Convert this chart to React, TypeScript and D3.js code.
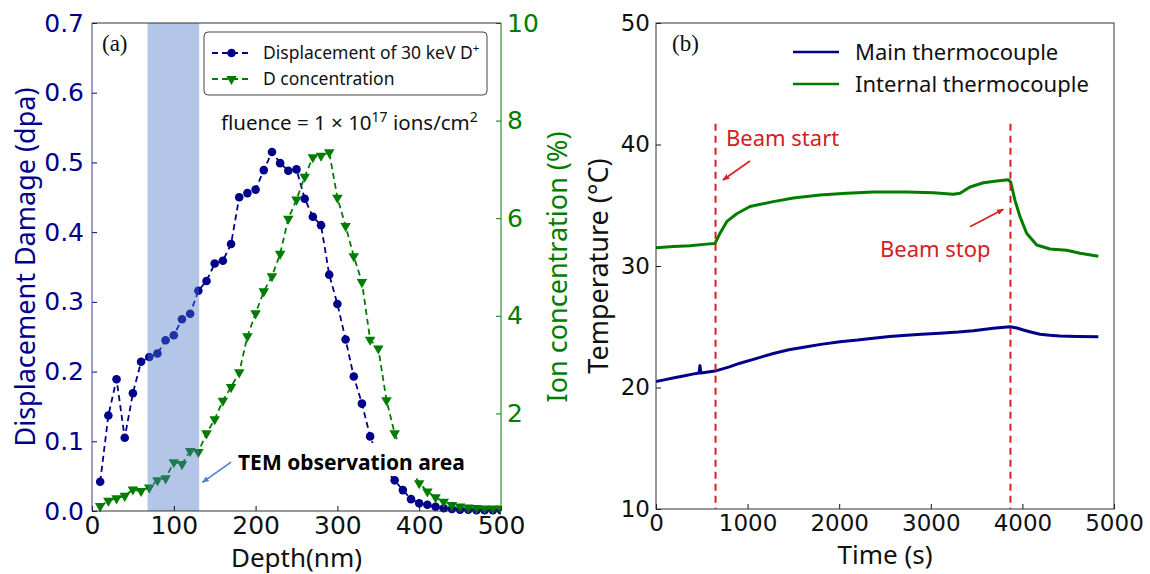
import React, { useEffect, useRef } from 'react';
import * as d3 from 'd3';

// ---- panel (a): SRIM damage and D concentration vs depth ----
const depth = [
  10, 20, 30, 40, 50, 60, 70, 80, 90, 100,
  110, 120, 130, 140, 150, 160, 170, 180, 190, 200,
  210, 220, 230, 240, 250, 260, 270, 280, 290, 300,
  310, 320, 330, 340, 350, 360, 370, 380, 390, 400,
  410, 420, 430, 440, 450, 460, 470, 480, 490, 500,
];
const displacement = [
  0.042, 0.137, 0.189, 0.105, 0.169, 0.214, 0.221, 0.226, 0.245, 0.252,
  0.275, 0.283, 0.316, 0.330, 0.355, 0.359, 0.383, 0.450, 0.456, 0.461,
  0.489, 0.515, 0.499, 0.488, 0.490, 0.448, 0.422, 0.410, 0.339, 0.297,
  0.246, 0.193, 0.154, 0.107, 0.075, 0.058, 0.044, 0.030, 0.017, 0.011,
  0.009, 0.006, 0.004, 0.003, 0.002, 0.002, 0.001, 0.001, 0.001, 0.001,
];
const dConcentration = [
  0.10, 0.21, 0.26, 0.31, 0.44, 0.41, 0.48, 0.63, 0.67, 1.00,
  0.96, 1.23, 1.21, 1.59, 1.88, 2.26, 2.54, 2.84, 3.58, 4.05,
  4.50, 4.81, 5.27, 5.99, 6.38, 6.85, 7.25, 7.28, 7.35, 6.42,
  5.84, 5.22, 4.69, 3.51, 3.33, 2.27, 1.59, 1.15, 0.85, 0.57,
  0.40, 0.28, 0.19, 0.12, 0.09, 0.07, 0.06, 0.05, 0.05, 0.05,
];
const depthTicks = [0, 100, 200, 300, 400, 500];
const dpaTicks = [0, 0.1, 0.2, 0.3, 0.4, 0.5, 0.6, 0.7];
const ionTicks = [2, 4, 6, 8, 10];
const temArea = [68, 131];

// ---- panel (b): thermocouple readings vs time ----
const timeMain = [
  0, 100, 200, 300, 400, 470, 480, 490, 644, 800,
  917, 1100, 1281, 1450, 1645, 1800, 2009, 2200, 2372, 2550,
  2737, 2900, 3100, 3300, 3464, 3682, 3865, 3940, 4010, 4100,
  4192, 4300, 4410, 4600, 4829,
];
const tempMain = [
  20.5, 20.65, 20.8, 20.95, 21.1, 21.2, 21.8, 21.2, 21.35, 21.7,
  22.0, 22.4, 22.8, 23.1, 23.35, 23.55, 23.77, 23.9, 24.05, 24.2,
  24.3, 24.38, 24.46, 24.56, 24.67, 24.87, 25.0, 24.9, 24.73, 24.55,
  24.38, 24.3, 24.24, 24.2, 24.18,
];
const timeInternal = [
  0, 189, 371, 553, 644, 699, 772, 881, 1026, 1281,
  1499, 1790, 2082, 2372, 2737, 3028, 3246, 3319, 3428, 3574,
  3719, 3846, 3872, 3919, 3974, 4046, 4156, 4301, 4483, 4629,
  4829,
];
const tempInternal = [
  31.5, 31.6, 31.67, 31.8, 31.85, 32.7, 33.65, 34.3, 34.9, 35.3,
  35.6, 35.84, 35.98, 36.1, 36.1, 36.03, 35.9, 35.98, 36.5, 36.85,
  37.0, 37.1, 36.9, 35.4, 34.06, 32.7, 31.73, 31.4, 31.3, 31.05,
  30.8,
];
const timeTicks = [0, 1000, 2000, 3000, 4000, 5000];
const tempTicks = [10, 20, 30, 40, 50];
const beamTimes = [650, 3870];

const NAVY = '#00008b';
const GREEN = '#007d00';
const RED = '#d42020';
const SPINE = '#333';
const SANS = '"Noto Sans", "Open Sans", sans-serif';
const TICK = '"DejaVu Sans", sans-serif';
const SERIF = '"Liberation Serif", "Times New Roman", serif';

function styleAxis(g: any, color: string, size: number) {
  g.select('.domain').remove();
  g.selectAll('.tick line').attr('stroke', color).attr('stroke-width', 1);
  g.selectAll('.tick text')
    .attr('fill', color)
    .style('font-family', TICK)
    .style('font-size', size + 'px');
}

function drawPanelA(svg: any) {
  const box = { left: 92, right: 501, top: 23, bottom: 511 };
  const x = d3.scaleLinear().domain([0, 500]).range([box.left, box.right]);
  const yL = d3.scaleLinear().domain([0, 0.7]).range([box.bottom, box.top]);
  const yR = d3.scaleLinear().domain([0, 10]).range([box.bottom, box.top]);

  svg.append('clipPath').attr('id', 'clipA')
    .append('rect')
    .attr('x', box.left).attr('y', box.top - 6)
    .attr('width', box.right - box.left).attr('height', box.bottom - box.top + 12);

  const plot = svg.append('g').attr('clip-path', 'url(#clipA)');

  const lineL = d3.line<number>().x((_, i) => x(depth[i])).y(d => yL(d));
  const lineR = d3.line<number>().x((_, i) => x(depth[i])).y(d => yR(d));

  plot.append('path').datum(displacement)
    .attr('d', lineL).attr('fill', 'none')
    .attr('stroke', NAVY).attr('stroke-width', 1.8).attr('stroke-dasharray', '6,4');
  plot.append('g').selectAll('circle').data(displacement).enter()
    .append('circle')
    .attr('cx', (_: number, i: number) => x(depth[i]))
    .attr('cy', (d: number) => yL(d))
    .attr('r', 4.3).attr('fill', NAVY);

  const tri = d3.symbol().type(d3.symbolTriangle).size(48);
  plot.append('path').datum(dConcentration)
    .attr('d', lineR).attr('fill', 'none')
    .attr('stroke', GREEN).attr('stroke-width', 1.8).attr('stroke-dasharray', '6,4');
  plot.append('g').selectAll('path').data(dConcentration).enter()
    .append('path')
    .attr('d', tri)
    .attr('transform', (d: number, i: number) => `translate(${x(depth[i])},${yR(d)}) rotate(180)`)
    .attr('fill', GREEN);

  // TEM observation band (drawn over the data, translucent)
  svg.append('rect')
    .attr('x', x(temArea[0])).attr('y', box.top)
    .attr('width', x(temArea[1]) - x(temArea[0]))
    .attr('height', box.bottom - box.top)
    .attr('fill', '#4a78c8').attr('fill-opacity', 0.42);

  // axes
  svg.append('g').attr('transform', `translate(${box.left},0)`)
    .call(d3.axisLeft(yL).tickValues(dpaTicks).tickSize(-5).tickPadding(8).tickFormat(d3.format('.1f')))
    .call((g: any) => styleAxis(g, NAVY, 25));
  svg.append('g').attr('transform', `translate(${box.right},0)`)
    .call(d3.axisRight(yR).tickValues(ionTicks).tickSize(-5).tickPadding(6).tickFormat(d3.format('d')))
    .call((g: any) => styleAxis(g, GREEN, 25));
  svg.append('g').attr('transform', `translate(0,${box.bottom})`)
    .call(d3.axisBottom(x).tickValues(depthTicks).tickSize(-5).tickPadding(5).tickFormat(d3.format('d')))
    .call((g: any) => styleAxis(g, '#111', 25));

  // spines
  svg.append('line').attr('x1', box.left).attr('x2', box.right).attr('y1', box.top).attr('y2', box.top).attr('stroke', SPINE);
  svg.append('line').attr('x1', box.left).attr('x2', box.right).attr('y1', box.bottom).attr('y2', box.bottom).attr('stroke', SPINE);
  svg.append('line').attr('x1', box.left).attr('x2', box.left).attr('y1', box.top).attr('y2', box.bottom).attr('stroke', '#3a3a90');
  svg.append('line').attr('x1', box.right).attr('x2', box.right).attr('y1', box.top).attr('y2', box.bottom).attr('stroke', GREEN);

  // axis titles
  svg.append('text')
    .attr('transform', `translate(35,${(box.top + box.bottom) / 2}) rotate(-90)`)
    .attr('text-anchor', 'middle').attr('fill', NAVY)
    .style('font-family', SANS).style('font-size', '27px')
    .text('Displacement Damage (dpa)');
  svg.append('text')
    .attr('transform', `translate(567,${(box.top + box.bottom) / 2}) rotate(-90)`)
    .attr('text-anchor', 'middle').attr('fill', GREEN)
    .style('font-family', SANS).style('font-size', '27px')
    .text('Ion concentration (%)');
  svg.append('text')
    .attr('x', (box.left + box.right) / 2).attr('y', 567)
    .attr('text-anchor', 'middle').attr('fill', '#111')
    .style('font-family', SANS).style('font-size', '26px')
    .text('Depth(nm)');

  svg.append('text').attr('x', 102).attr('y', 51)
    .style('font-family', SERIF).style('font-size', '23px').attr('fill', '#111')
    .text('(a)');

  // legend
  const lg = svg.append('g');
  lg.append('rect').attr('x', 204).attr('y', 32).attr('width', 283).attr('height', 63)
    .attr('rx', 4).attr('fill', 'white').attr('stroke', '#444').attr('stroke-width', 1);
  [
    { y: 53, color: NAVY, label: 'Displacement of 30 keV D', sup: '+', marker: 'circle' },
    { y: 79, color: GREEN, label: 'D concentration', sup: '', marker: 'tri' },
  ].forEach(item => {
    lg.append('line').attr('x1', 212).attr('x2', 251).attr('y1', item.y).attr('y2', item.y)
      .attr('stroke', item.color).attr('stroke-width', 1.8).attr('stroke-dasharray', '6,4');
    if (item.marker === 'circle') {
      lg.append('circle').attr('cx', 231.5).attr('cy', item.y).attr('r', 4.3).attr('fill', item.color);
    } else {
      lg.append('path').attr('d', tri).attr('transform', `translate(231.5,${item.y}) rotate(180)`).attr('fill', item.color);
    }
    const t = lg.append('text').attr('x', 263).attr('y', item.y + 6)
      .style('font-family', SANS).style('font-size', '17.5px').attr('fill', '#111')
      .text(item.label);
    if (item.sup) {
      t.append('tspan').attr('dy', -7).style('font-size', '11.5px').text(item.sup);
    }
  });

  // fluence note
  const fl = svg.append('text').attr('x', 221).attr('y', 130)
    .style('font-family', SANS).style('font-size', '20.5px').attr('fill', '#111');
  fl.append('tspan').text('fluence = 1 × 10');
  fl.append('tspan').attr('dy', -8).style('font-size', '14px').text('17');
  fl.append('tspan').attr('dy', 8).text(' ions/cm');
  fl.append('tspan').attr('dy', -8).style('font-size', '14px').text('2');

  // TEM label with white box and arrow
  svg.append('rect').attr('x', 233).attr('y', 443).attr('width', 256).attr('height', 33).attr('fill', 'white');
  svg.append('text').attr('x', 238).attr('y', 470)
    .style('font-family', SANS).style('font-size', '21px').style('font-weight', 700).attr('fill', '#000')
    .text('TEM observation area');
  svg.append('line')
    .attr('x1', x(170)).attr('y1', yL(0.07)).attr('x2', x(135)).attr('y2', yL(0.041))
    .attr('stroke', '#4a7fd0').attr('stroke-width', 1.6).attr('marker-end', 'url(#arrowBlue)');
}

function drawPanelB(svg: any) {
  const box = { left: 656, right: 1114, top: 23, bottom: 509 };
  const x = d3.scaleLinear().domain([0, 5000]).range([box.left, box.right]);
  const y = d3.scaleLinear().domain([10, 50]).range([box.bottom, box.top]);

  svg.append('clipPath').attr('id', 'clipB')
    .append('rect')
    .attr('x', box.left).attr('y', box.top)
    .attr('width', box.right - box.left).attr('height', box.bottom - box.top);
  const plot = svg.append('g').attr('clip-path', 'url(#clipB)');

  const line = (ts: number[]) => d3.line<number>().x((_, i) => x(ts[i])).y(d => y(d));

  plot.append('path').datum(tempMain).attr('d', line(timeMain))
    .attr('fill', 'none').attr('stroke', NAVY).attr('stroke-width', 3).attr('stroke-linejoin', 'round');
  plot.append('path').datum(tempInternal).attr('d', line(timeInternal))
    .attr('fill', 'none').attr('stroke', GREEN).attr('stroke-width', 3).attr('stroke-linejoin', 'round');

  plot.selectAll('.beam').data(beamTimes).enter()
    .append('line')
    .attr('x1', (d: number) => x(d)).attr('x2', (d: number) => x(d))
    .attr('y1', y(41.7)).attr('y2', y(10))
    .attr('stroke', RED).attr('stroke-width', 2).attr('stroke-dasharray', '7,5');

  svg.append('g').attr('transform', `translate(${box.left},0)`)
    .call(d3.axisLeft(y).tickValues(tempTicks).tickSize(-5).tickPadding(6).tickFormat(d3.format('d')))
    .call((g: any) => styleAxis(g, '#111', 23));
  svg.append('g').attr('transform', `translate(0,${box.bottom})`)
    .call(d3.axisBottom(x).tickValues(timeTicks).tickSize(-5).tickPadding(6).tickFormat(d3.format('d')))
    .call((g: any) => styleAxis(g, '#111', 23));

  svg.append('rect').attr('x', box.left).attr('y', box.top)
    .attr('width', box.right - box.left).attr('height', box.bottom - box.top)
    .attr('fill', 'none').attr('stroke', SPINE).attr('stroke-width', 1);

  svg.append('text')
    .attr('transform', `translate(608,${(box.top + box.bottom) / 2}) rotate(-90)`)
    .attr('text-anchor', 'middle').attr('fill', '#111')
    .style('font-family', SANS).style('font-size', '27px')
    .text('Temperature (°C)');
  svg.append('text')
    .attr('x', (box.left + box.right) / 2).attr('y', 564)
    .attr('text-anchor', 'middle').attr('fill', '#111')
    .style('font-family', SANS).style('font-size', '26px')
    .text('Time (s)');

  svg.append('text').attr('x', 672).attr('y', 51)
    .style('font-family', SERIF).style('font-size', '23px').attr('fill', '#111')
    .text('(b)');

  // legend (no frame)
  [
    { y: 52, color: NAVY, label: 'Main thermocouple' },
    { y: 84, color: GREEN, label: 'Internal thermocouple' },
  ].forEach(item => {
    svg.append('line').attr('x1', 793).attr('x2', 839).attr('y1', item.y).attr('y2', item.y)
      .attr('stroke', item.color).attr('stroke-width', 2.6);
    svg.append('text').attr('x', 855).attr('y', item.y + 8)
      .style('font-family', SANS).style('font-size', '22px').attr('fill', '#111')
      .text(item.label);
  });

  // beam annotations
  svg.append('text').attr('x', x(764)).attr('y', y(39.88))
    .style('font-family', SANS).style('font-size', '22px').attr('fill', RED)
    .text('Beam start');
  svg.append('line')
    .attr('x1', x(1026)).attr('y1', y(38.64)).attr('x2', x(731)).attr('y2', y(37.08))
    .attr('stroke', RED).attr('stroke-width', 1.6).attr('marker-end', 'url(#arrowRed)');
  svg.append('text').attr('x', x(2445)).attr('y', y(30.77))
    .style('font-family', SANS).style('font-size', '22px').attr('fill', RED)
    .text('Beam stop');
  svg.append('line')
    .attr('x1', x(3428)).attr('y1', y(33.23)).attr('x2', x(3792)).attr('y2', y(34.67))
    .attr('stroke', RED).attr('stroke-width', 1.6).attr('marker-end', 'url(#arrowRed)');
}

export default function App() {
  const ref = useRef<SVGSVGElement>(null);

  useEffect(() => {
    const svg = d3.select(ref.current);
    svg.selectAll('*').remove();

    const defs = svg.append('defs');
    [['arrowRed', RED], ['arrowBlue', '#4a7fd0']].forEach(([id, color]) => {
      defs.append('marker').attr('id', id)
        .attr('viewBox', '0 0 10 10').attr('refX', 9).attr('refY', 5)
        .attr('markerWidth', 7).attr('markerHeight', 7).attr('orient', 'auto')
        .attr('markerUnits', 'userSpaceOnUse')
        .append('path').attr('d', 'M0,1 L10,5 L0,9 Z').attr('fill', color);
    });

    svg.append('rect').attr('width', 1150).attr('height', 574).attr('fill', 'white');
    drawPanelA(svg);
    drawPanelB(svg);
  }, []);

  return (
    <svg
      ref={ref}
      width={1150}
      height={574}
      style={{ position: 'absolute', left: 0, top: 0, display: 'block' }}
    />
  );
}
